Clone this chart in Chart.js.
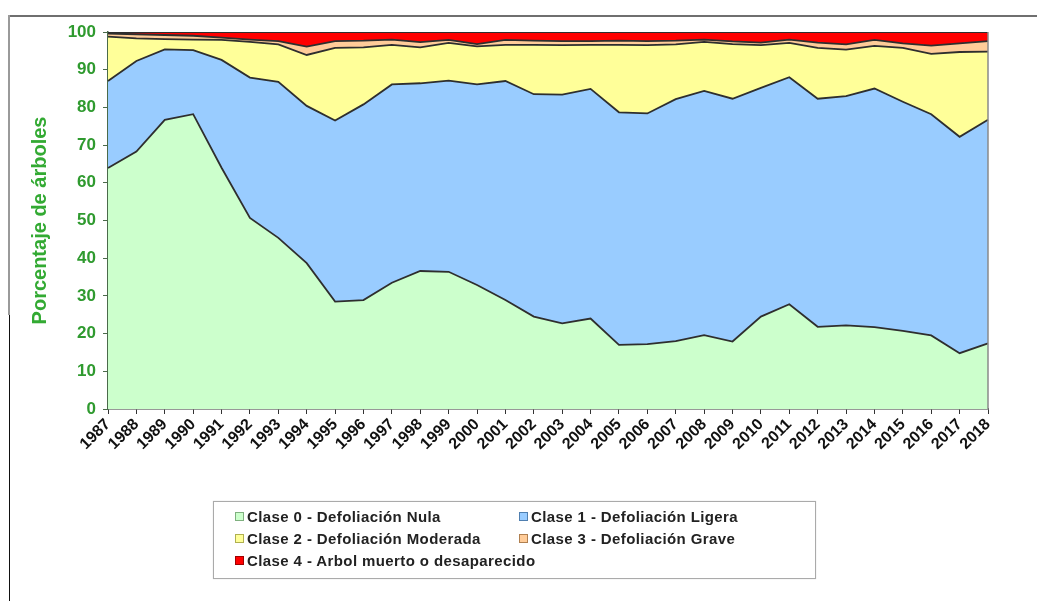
<!DOCTYPE html>
<html lang="es">
<head>
<meta charset="utf-8">
<title>Defoliación por clases 1987-2018</title>
<script src="https://cdn.jsdelivr.net/npm/chart.js@4/dist/chart.umd.min.js"></script>
<style>
  html, body { margin: 0; padding: 0; background: #fff; }
  #wrap { position: relative; width: 1037px; height: 601px; overflow: hidden; }
  #chart { position: absolute; left: 0; top: 0; }
  .frame-top { position: absolute; left: 8px; top: 15px; width: 1029px; height: 2px; background: #6f6f6f; }
  .frame-left { position: absolute; left: 8px; top: 15px; width: 2px; height: 300px; background: #9a9a9a; }
  .frame-left2 { position: absolute; left: 9px; top: 315px; width: 1px; height: 286px; background: #111; }
  #legend {
    position: absolute; left: 213px; top: 501px; width: 601px; height: 72px;
    border: 1px solid #aaa; box-shadow: 0 0 1px #ccc; padding-top: 4px;
    font: bold 15px Arial, "Liberation Sans", sans-serif; letter-spacing: 0.4px; color: #222;
  }
  #legend .item { position: absolute; height: 22px; line-height: 22px; white-space: nowrap; }
  #legend .box { display: inline-block; width: 7px; height: 7px; margin-right: 3px; vertical-align: 1px; }
</style>
</head>
<body>
<div id="wrap">
  <canvas id="chart" width="1037" height="601"></canvas>
  <div class="frame-top"></div>
  <div class="frame-left"></div>
  <div class="frame-left2"></div>
  <div id="legend"></div>
</div>
<script>
// Years
const years = ["1987","1988","1989","1990","1991","1992","1993","1994","1995","1996",
  "1997","1998","1999","2000","2001","2002","2003","2004","2005","2006","2007","2008",
  "2009","2010","2011","2012","2013","2014","2015","2016","2017","2018"];

// Percentage of trees per defoliation class
const clase0 = [63.9,68.3,76.7,78.2,64.0,50.7,45.4,38.7,28.5,28.9,33.5,36.6,36.4,32.9,28.9,24.5,
  22.7,24.0,17.0,17.2,18.0,19.6,17.9,24.5,27.8,21.8,22.2,21.7,20.7,19.5,14.8,17.4];
const clase1 = [23.1,24.0,18.7,17.0,28.6,37.2,41.4,41.7,48.0,51.9,52.6,49.8,50.7,53.2,58.1,59.0,
  60.7,60.9,61.7,61.2,64.2,64.8,64.4,60.7,60.2,60.5,60.8,63.3,60.8,58.7,57.4,59.3];
const clase2 = [11.8,6.0,2.7,2.8,5.3,9.5,9.9,13.5,19.3,15.1,10.5,9.5,10.0,10.1,9.6,13.1,
  13.1,11.7,17.9,18.1,14.5,13.0,14.5,11.3,9.1,13.5,12.3,11.3,14.3,16.0,22.5,18.1];
const clase3 = [0.8,1.1,1.1,1.0,0.6,0.6,0.9,2.2,1.8,1.8,1.4,1.4,0.8,0.6,1.3,1.1,
  1.1,1.0,1.1,1.1,1.0,0.6,0.7,0.7,0.9,1.4,1.4,1.6,1.2,2.2,2.3,2.8];
const clase4 = [0.4,0.6,0.8,1.0,1.5,2.0,2.4,3.9,2.4,2.3,2.0,2.7,2.1,3.2,2.1,2.3,
  2.4,2.4,2.3,2.4,2.3,2.0,2.5,2.8,2.0,2.8,3.3,2.1,3.0,3.6,3.0,2.4];

const labels = [
  "Clase 0 - Defoliación Nula",
  "Clase 1 - Defoliación Ligera",
  "Clase 2 - Defoliación Moderada",
  "Clase 3 - Defoliación Grave",
  "Clase 4 - Arbol muerto o desaparecido"
];
const colors = ["#ccffcc", "#99ccff", "#ffff99", "#ffcc99", "#ff0000"];
const edges = ["#7fb07f", "#4f7fb0", "#b0b050", "#b08050", "#a00000"];
const series = [clase0, clase1, clase2, clase3, clase4];

const green = "#2f9a2f";
const font = "Arial, 'Liberation Sans', sans-serif";

// right edge of the plot area
const plotBorder = {
  id: "plotBorder",
  afterDatasetsDraw(chart) {
    const { ctx, chartArea: a } = chart;
    ctx.save();
    ctx.strokeStyle = "#8a8a8a";
    ctx.lineWidth = 1.5;
    ctx.beginPath();
    ctx.moveTo(a.right, a.top);
    ctx.lineTo(a.right, a.bottom);
    ctx.stroke();
    ctx.restore();
  }
};

const chart = new Chart(document.getElementById("chart"), {
  type: "line",
  data: {
    labels: years,
    datasets: series.map((d, i) => ({
      label: labels[i],
      data: d,
      backgroundColor: colors[i],
      borderColor: "#2e2e2e",
      borderWidth: 1.8,
      pointRadius: 0,
      tension: 0,
      fill: i === 0 ? "origin" : "-1"
    }))
  },
  options: {
    responsive: false,
    animation: false,
    layout: { padding: { left: 0, top: 32, right: 49, bottom: 0 } },
    plugins: { legend: { display: false }, tooltip: { enabled: false } },
    scales: {
      x: {
        offset: false,
        grid: { drawOnChartArea: false, tickLength: 5, color: "#333" },
        border: { color: "#333", width: 1.5 },
        ticks: {
          autoSkip: false, minRotation: 45, maxRotation: 45, padding: 1,
          color: "#111", font: { family: font, size: 16, weight: "bold" }
        },
        afterFit(s) { s.height = 601 - 409; }
      },
      y: {
        stacked: true,
        min: 0, max: 100,
        grid: { drawOnChartArea: false, tickLength: 5, color: "#4a6a4a" },
        border: { color: "#4a6a4a", width: 1.5 },
        ticks: {
          stepSize: 10, padding: 7, color: green,
          font: { family: font, size: 17, weight: "bold" }
        },
        title: {
          display: true, text: "Porcentaje de árboles", color: "#33aa33",
          font: { family: font, size: 20, weight: "bold" },
          padding: { top: 28, bottom: 0 }
        },
        afterFit(s) { s.width = 108; }
      }
    }
  },
  plugins: [plotBorder]
});

// Legend: two columns, built from the datasets
const legend = document.getElementById("legend");
const colX = [21, 305];
chart.data.datasets.forEach((ds, i) => {
  const item = document.createElement("div");
  item.className = "item";
  item.style.left = colX[i % 2] + "px";
  item.style.top = (4 + Math.floor(i / 2) * 22) + "px";
  item.innerHTML = `<span class="box" style="background:${ds.backgroundColor};border:1px solid ${edges[i]}"></span>${ds.label}`;
  legend.appendChild(item);
});
</script>
</body>
</html>
